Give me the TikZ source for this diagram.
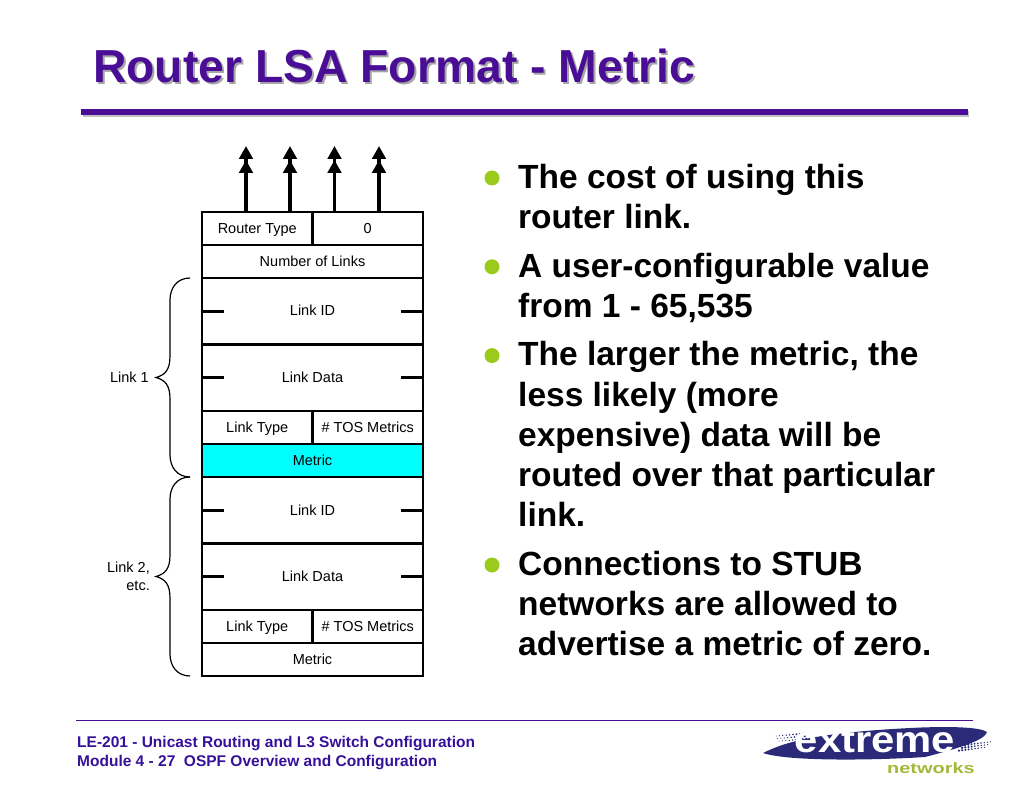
\documentclass[tikz,border=0pt]{standalone}
\usepackage{fontspec}
\setmainfont{Liberation Sans}
\usepackage{xcolor}
\usetikzlibrary{positioning,arrows.meta}
\definecolor{titlepurple}{HTML}{4A0E96}
\definecolor{footblue}{HTML}{35109A}
\definecolor{bulletgreen}{HTML}{9ACB1C}
\definecolor{logonavy}{HTML}{2A2A78}
\definecolor{logogreen}{HTML}{A3B838}
\definecolor{metriccyan}{HTML}{00FFFF}
\tikzset{
    cell/.style = {draw, line width=2.8pt, rectangle, inner sep=0pt, outer sep=0pt, text height=12.5pt, text depth=3pt, font=\fontsize{14.5}{17}\selectfont, minimum width=221pt},
    halfcell/.style = {cell, minimum width=110.5pt, minimum height=33pt},
    lowcell/.style = {cell, minimum height=33pt},
    tallcell/.style = {cell, minimum height=66.5pt},
    tick/.style = {line width=2.8pt},
    upline/.style = {line width=3.6pt, -{Triangle[length=13pt,width=13.5pt,sep=1pt]Triangle[length=13pt,width=13.5pt]}},
    linkbrace/.style = {line width=1.2pt},
    sidelabel/.style = {font=\fontsize{14.5}{18}\selectfont, align=right, inner sep=0pt, anchor=east},
    point/.style = {anchor=north west, inner sep=0pt, align=left, font=\fontsize{33.5}{40.2}\selectfont\bfseries},
    dot/.style = {circle, fill=bulletgreen, minimum size=15pt, inner sep=0pt},
    foot/.style = {anchor=west, inner sep=0pt, text=footblue, font=\fontsize{15.5}{17}\selectfont\bfseries},
}
\begin{document}
\begin{tikzpicture}[x=1pt,y=-1pt]
\useasboundingbox (0,0) rectangle (1024,791);
% title
\node[anchor=west, inner sep=0pt, text=black!35, font=\fontsize{46.3}{50}\selectfont\bfseries] (titleback) at (95,68) {Router LSA Format - Metric};
\node[anchor=west, inner sep=0pt, text=titlepurple, font=\fontsize{46.3}{50}\selectfont\bfseries] (title) at (93,66) {Router LSA Format - Metric};
\fill[black!25] (83,111) rectangle (969,117);
\fill[titlepurple] (81,109) rectangle (968,115);

% packet fields
\node[halfcell, anchor=north west] (rtype) at (202,212) {Router Type};
\node[halfcell, right=0pt of rtype] (zero) {0};
\node[lowcell, below=0pt of rtype.south west, anchor=north west] (nlinks) {Number of Links};
\node[tallcell, below=0pt of nlinks] (ida) {Link ID};
\node[tallcell, below=0pt of ida] (dataa) {Link Data};
\node[halfcell, below=0pt of dataa.south west, anchor=north west] (ltypea) {Link Type};
\node[halfcell, right=0pt of ltypea] (tosa) {\# TOS Metrics};
\node[lowcell, fill=metriccyan, below=0pt of ltypea.south west, anchor=north west] (metrica) {Metric};
\node[tallcell, below=0pt of metrica] (idb) {Link ID};
\node[tallcell, below=0pt of idb] (datab) {Link Data};
\node[halfcell, below=0pt of datab.south west, anchor=north west] (ltypeb) {Link Type};
\node[halfcell, right=0pt of ltypeb] (tosb) {\# TOS Metrics};
\node[lowcell, below=0pt of ltypeb.south west, anchor=north west] (metricb) {Metric};

% ticks on the tall fields
\foreach \name in {ida,dataa,idb,datab} {
    \draw[tick] (\name.west) -- +(22,0);
    \draw[tick] (\name.east) -- +(-22,0);
}

% arrows leaving the top
\coordinate (upa) at (246,146);
\coordinate (upb) at (290,146);
\coordinate (upc) at (334.5,146);
\coordinate (upd) at (379,146);
\draw[upline] (upa |- rtype.north) -- (upa);
\draw[upline] (upb |- rtype.north) -- (upb);
\draw[upline] (upc |- zero.north) -- (upc);
\draw[upline] (upd |- zero.north) -- (upd);

% braces
\foreach \y in {278,477} {
    \draw[linkbrace] (190,\y) .. controls (177,\y) and (170,\y+10) .. (170,\y+22)
        -- (170,\y+78) .. controls (170,\y+92) and (165,\y+97) .. (156,\y+99.5)
        .. controls (165,\y+102) and (170,\y+107) .. (170,\y+121)
        -- (170,\y+177) .. controls (170,\y+189) and (177,\y+199) .. (190,\y+199);
}
\node[sidelabel] (linka) at (149,377) {Link 1};
\node[sidelabel] (linkb) at (150,576.5) {Link 2,\\etc.};

% points
\node[point] (pa) at (518,160) {\strut The cost of using this\\router link.\strut};
\node[point, below=8pt of pa.south west, anchor=north west] (pb) {\strut A user-configurable value\\from 1 - 65,535\strut};
\node[point, below=8pt of pb.south west, anchor=north west] (pc) {\strut The larger the metric, the\\less likely (more\\expensive) data will be\\routed over that particular\\link.\strut};
\node[point, below=8pt of pc.south west, anchor=north west] (pd) {\strut Connections to STUB\\networks are allowed to\\advertise a metric of zero.\strut};
\foreach \name in {pa,pb,pc,pd} {
    \node[dot] at ([shift={(-26,18)}]\name.north west) {};
}

% footer
\draw[titlepurple, line width=1pt] (76,720) -- (973,720);
\node[foot] (modname) at (77,743.5) {LE-201 - Unicast Routing and L3 Switch Configuration};
\node[foot] (modnum) at (77,762.5) {Module 4 - 27\ \ OSPF Overview and Configuration};

% logo
\fill[logonavy] (763,753) .. controls (785,742) and (815,733) .. (910,728)
    .. controls (950,726) and (980,727) .. (987,732)
    .. controls (985,740) and (960,748) .. (925,757)
    .. controls (880,760) and (790,762) .. (763,753) -- cycle;
\foreach \i in {0,...,8} {
    \foreach \j in {0,...,2} {
        \fill[logonavy] ({776+\i*3.4+\j*1.5},{736+\j*2.6-\i*0.3}) circle ({0.5+\i*0.08});
        \fill[logonavy] ({965+\i*3.2-\j*3},{745+\j*2.8-\i*0.4}) circle ({1.3-\i*0.09});
    }
}
\node[inner sep=0pt, text=white, font=\fontsize{37}{37}\selectfont\bfseries] (logotext) at (875,741) {\addfontfeature{FakeStretch=1.13}extreme};
\node[anchor=west, inner sep=0pt, text=logogreen, font=\fontsize{15}{15}\selectfont\bfseries] (logosub) at (887,768) {\addfontfeature{FakeStretch=1.33}networks};
\end{tikzpicture}
\end{document}
